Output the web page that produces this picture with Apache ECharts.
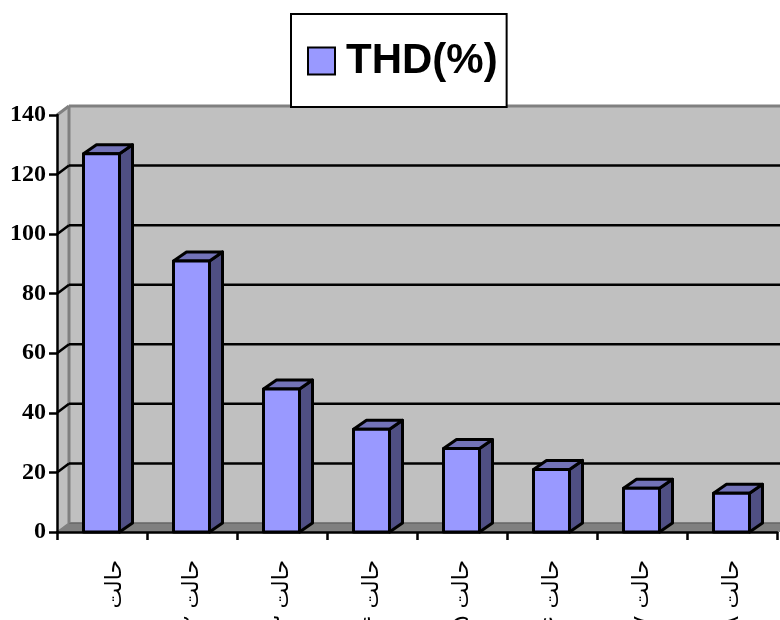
<!DOCTYPE html>
<html>
<head>
<meta charset="utf-8">
<title>THD</title>
<script src="https://cdn.jsdelivr.net/npm/echarts@6/dist/echarts.min.js"></script>
<style>
html, body { margin: 0; padding: 0; background: #fff; overflow: hidden; }
#main { width: 780px; height: 620px; }
</style>
</head>
<body>
<div id="main"></div>
<script>
const categories = ['حالت ۱', 'حالت ۲', 'حالت ۳', 'حالت ۴', 'حالت ۵', 'حالت ۶', 'حالت ۷', 'حالت ۸'];
const thdValues = [127, 91, 48, 34.5, 28, 21, 14.7, 13];
const gridValues = [20, 40, 60, 80, 100, 120];

// 3D depth of the old Excel chart
const DX = 12;
const DY = -9;
const BAR_WIDTH = 36;

function poly(points, fill, stroke, lineWidth) {
  return {
    type: 'polygon',
    shape: { points: points },
    style: { fill: fill, stroke: stroke || null, lineWidth: lineWidth || 0, lineJoin: 'round' }
  };
}

function seg(x1, y1, x2, y2, color, lineWidth) {
  return {
    type: 'line',
    shape: { x1: x1, y1: y1, x2: x2, y2: y2 },
    style: { stroke: color, lineWidth: lineWidth }
  };
}

function renderWalls(params, api) {
  const g = params.coordSys;
  const l = g.x, r = g.x + g.width + 20, t = g.y, b = g.y + g.height;
  return {
    type: 'group',
    children: [
      poly([[l + DX, t + DY], [r, t + DY], [r, b + DY], [l + DX, b + DY]], '#c0c0c0'),
      poly([[l, t], [l + DX, t + DY], [l + DX, b + DY], [l, b]], '#c0c0c0'),
      poly([[l, b], [l + DX, b + DY], [r, b + DY], [r, b]], '#808080'),
      seg(l + DX, b + DY, r, b + DY, '#666666', 1.5),
      seg(l, t, l + DX, t + DY, '#808080', 3),
      seg(l + DX, t + DY, r, t + DY, '#808080', 3),
      seg(l + DX, t + DY, l + DX, b + DY, '#808080', 3),
      seg(l, b, l + DX, b + DY, '#808080', 1.5)
    ]
  };
}

function renderGridLine(params, api) {
  const g = params.coordSys;
  const y = api.coord([0, api.value(0)])[1];
  return {
    type: 'group',
    children: [
      seg(g.x, y, g.x + DX, y + DY, '#000', 2.5),
      seg(g.x + DX, y + DY, g.x + g.width + 20, y + DY, '#000', 2.5)
    ]
  };
}

function renderBar(params, api) {
  const top = api.coord([api.value(0), api.value(1)]);
  const base = api.coord([api.value(0), 0]);
  const x0 = top[0] - BAR_WIDTH / 2 - 0.5;
  const x1 = x0 + BAR_WIDTH;
  const y0 = top[1];
  const y1 = base[1];
  const dx = DX + 1;
  return {
    type: 'group',
    children: [
      poly([[x1, y0], [x1 + dx, y0 + DY], [x1 + dx, y1 + DY], [x1, y1]], '#4f4f83', '#000', 3),
      poly([[x0, y0], [x0 + dx, y0 + DY], [x1 + dx, y0 + DY], [x1, y0]], '#7373b8', '#000', 3),
      poly([[x0, y0], [x1, y0], [x1, y1], [x0, y1]], '#9999ff', '#000', 3)
    ]
  };
}

const chart = echarts.init(document.getElementById('main'));

chart.setOption({
  animation: false,
  backgroundColor: '#fff',
  grid: { left: 57, right: 3, top: 115, bottom: 88, outerBoundsMode: 'none' },
  legend: {
    data: [{ name: 'THD(%)', icon: 'rect' }],
    left: 291,
    top: 14,
    padding: [26, 9, 25, 16],
    backgroundColor: '#fff',
    borderColor: '#000',
    borderWidth: 2,
    itemWidth: 27,
    itemHeight: 27,
    itemGap: 0,
    selectedMode: false,
    z: 20,
    itemStyle: { color: '#9999ff', borderColor: '#000', borderWidth: 2 },
    textStyle: {
      fontFamily: '"Liberation Sans", Arial, sans-serif',
      fontWeight: 'bold',
      fontSize: 42,
      color: '#000',
      padding: [0, 0, 0, 6]
    }
  },
  xAxis: {
    type: 'category',
    data: categories,
    z: 6,
    boundaryGap: true,
    axisLine: { lineStyle: { color: '#000', width: 2.5 } },
    axisTick: { show: true, alignWithLabel: false, length: 8, lineStyle: { color: '#000', width: 2.5 } },
    axisLabel: {
      interval: 0,
      rotate: 90,
      margin: 28,
      fontFamily: '"DejaVu Sans", sans-serif',
      fontSize: 22,
      color: '#000',
      // first label sits further right in the original
      formatter: (value, index) => index === 0 ? '{first|' + value + '}' : value,
      rich: {
        first: { padding: [26, 0, 0, 0], fontFamily: '"DejaVu Sans", sans-serif', fontSize: 22, color: '#000' }
      }
    },
    splitLine: { show: false }
  },
  yAxis: {
    type: 'value',
    min: 0,
    max: 140,
    interval: 20,
    z: 6,
    axisLine: { show: true, lineStyle: { color: '#000', width: 2.5 } },
    axisTick: { show: true, length: 8, lineStyle: { color: '#000', width: 2.5 } },
    axisLabel: {
      margin: 11,
      fontFamily: '"Liberation Serif", "Times New Roman", serif',
      fontWeight: 'bold',
      fontSize: 24,
      color: '#000'
    },
    splitLine: { show: false }
  },
  series: [
    { name: 'walls', type: 'custom', z: 1, clip: false, silent: true, renderItem: renderWalls, data: [[0]] },
    {
      name: 'grid',
      type: 'custom',
      z: 2,
      clip: false,
      silent: true,
      renderItem: renderGridLine,
      encode: { y: 0 },
      data: gridValues.map(v => [v])
    },
    {
      name: 'THD(%)',
      type: 'custom',
      z: 3,
      clip: false,
      itemStyle: { color: '#9999ff' },
      renderItem: renderBar,
      encode: { x: 0, y: 1 },
      data: thdValues.map((v, i) => [i, v])
    }
  ]
});
</script>
</body>
</html>
